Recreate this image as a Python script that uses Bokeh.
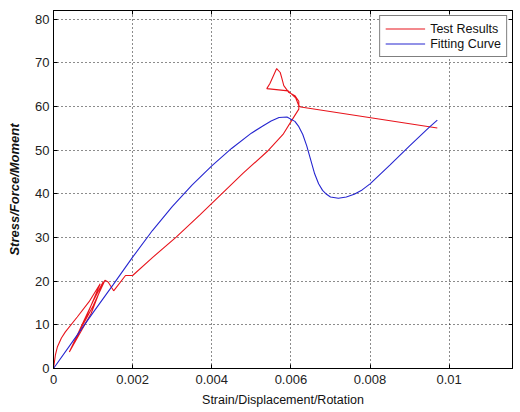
from bokeh.plotting import figure
from bokeh.models import Range1d, FixedTicker, LinearAxis, Legend, LegendItem
from bokeh.embed import file_html
from bokeh.resources import INLINE

# Measured response (loading / unloading cycles, then peak and softening)
test_x = [0, 0.00005, 0.0001, 0.0002, 0.0003, 0.0006, 0.0009, 0.00118,
          0.0008, 0.00045, 0.0007, 0.001, 0.00126, 0.00095, 0.0004, 0.0006,
          0.001, 0.0013, 0.00138, 0.00152, 0.00182, 0.002, 0.0025, 0.0031,
          0.0037, 0.00425, 0.0048, 0.0054, 0.0058, 0.00606, 0.0062, 0.0062,
          0.0061, 0.00595, 0.00582, 0.00577, 0.00573, 0.00564, 0.00547,
          0.00539, 0.00593, 0.00612, 0.0062, 0.00625, 0.0097]
test_y = [0, 3.2, 5.0, 7.0, 8.4, 11.8, 15.3, 19.4,
          11.2, 4.6, 9.6, 15.4, 19.9, 12.6, 3.8, 7.6,
          14.3, 20.2, 19.8, 17.8, 21.3, 21.3, 25.4, 30.1,
          35.2, 40.0, 44.8, 49.7, 53.6, 57.4, 59.4, 61.2,
          62.5, 63.2, 64.8, 66.5, 67.8, 68.7, 65.3,
          64.1, 63.6, 62.0, 60.2, 59.9, 55.1]

# Fitted model curve
fit_x = [0, 0.0005, 0.001, 0.0015, 0.002, 0.0025, 0.003, 0.0035, 0.004,
         0.0045, 0.005, 0.0053, 0.0055, 0.0057, 0.0059, 0.0061, 0.0062,
         0.0063, 0.0064, 0.0065, 0.0066, 0.0067, 0.0068, 0.0069, 0.007,
         0.0072, 0.0074, 0.0076, 0.0078, 0.008, 0.0085, 0.009, 0.0095,
         0.0097]
fit_y = [0, 6.4, 12.8, 19.1, 25.5, 31.6, 37.1, 42.0, 46.4,
         50.4, 53.9, 55.6, 56.7, 57.5, 57.6, 56.6, 55.4,
         53.6, 51.0, 47.8, 44.6, 42.3, 40.8, 39.9, 39.3,
         39.0, 39.3, 39.9, 40.9, 42.3, 46.6, 51.0, 55.3,
         56.9]

x_ticks = [0, 0.002, 0.004, 0.006, 0.008, 0.01]
x_tick_labels = ["0", "0.002", "0.004", "0.006", "0.008", "0.01"]
y_ticks = [0, 10, 20, 30, 40, 50, 60, 70, 80]

FONT = "Liberation Sans"

p = figure(width=520, height=412, output_backend="svg", toolbar_location=None,
           x_range=Range1d(0, 0.0116), y_range=Range1d(0, 82))
p.min_border_left = 53
p.min_border_right = 8
p.min_border_top = 10
p.min_border_bottom = 44
p.background_fill_color = "white"
p.border_fill_color = "white"
p.outline_line_color = "black"
p.outline_line_width = 1

for ax in (p.xaxis[0], p.yaxis[0]):
    ax.major_tick_in = 4
    ax.major_tick_out = 0
    ax.minor_tick_line_color = None
    ax.axis_line_color = "black"
    ax.major_tick_line_color = "black"
    ax.major_label_text_font = FONT
    ax.major_label_text_font_size = "13px"
    ax.major_label_text_color = "#222222"
    ax.axis_label_text_font = FONT
    ax.axis_label_text_color = "#111111"

p.xaxis.ticker = FixedTicker(ticks=x_ticks)
p.xaxis.major_label_overrides = {t: s for t, s in zip(x_ticks, x_tick_labels)}
p.xaxis.axis_label = "Strain/Displacement/Rotation"
p.xaxis.axis_label_text_font_style = "normal"
p.xaxis.axis_label_text_font_size = "12.5px"
p.xaxis.major_label_standoff = 6
p.xaxis.axis_label_standoff = 6

p.yaxis.ticker = FixedTicker(ticks=y_ticks)
p.yaxis.axis_label = "Stress/Force/Moment"
p.yaxis.axis_label_text_font_style = "bold italic"
p.yaxis.axis_label_text_font_size = "13px"
p.yaxis.major_label_standoff = 4
p.yaxis.axis_label_standoff = 10

# Inward ticks on the top and right edges of the box (no labels drawn)
top_ax = LinearAxis(ticker=FixedTicker(ticks=x_ticks))
right_ax = LinearAxis(ticker=FixedTicker(ticks=y_ticks))
for ax in (top_ax, right_ax):
    ax.major_tick_in = 4
    ax.major_tick_out = 0
    ax.minor_tick_line_color = None
    ax.major_label_text_color = None
    ax.major_label_text_font_size = "1px"
    ax.major_label_standoff = 0
    ax.axis_line_color = "black"
p.add_layout(top_ax, "above")
p.add_layout(right_ax, "right")

p.xgrid.ticker = FixedTicker(ticks=x_ticks)
p.ygrid.ticker = FixedTicker(ticks=y_ticks)
p.grid.grid_line_color = "black"
p.grid.grid_line_dash = "1 3"
p.grid.grid_line_width = 1
p.grid.grid_line_alpha = 0.9

r_test = p.line(test_x, test_y, line_color="#e8141c", line_width=1.1)
r_fit = p.line(fit_x, fit_y, line_color="#2626d0", line_width=1.1)

legend = Legend(items=[LegendItem(label="Test Results", renderers=[r_test]),
                       LegendItem(label="Fitting Curve", renderers=[r_fit])],
                location="top_right")
legend.margin = 5
legend.padding = 5
legend.spacing = 0
legend.glyph_width = 40
legend.glyph_height = 15
legend.label_height = 15
legend.label_standoff = 5
legend.label_text_font = FONT
legend.label_text_font_size = "12.5px"
legend.label_text_color = "#111111"
legend.border_line_color = "black"
legend.border_line_width = 1
legend.background_fill_color = "white"
legend.background_fill_alpha = 1
p.add_layout(legend, "center")

open("out.html", "w").write(file_html(p, INLINE))
